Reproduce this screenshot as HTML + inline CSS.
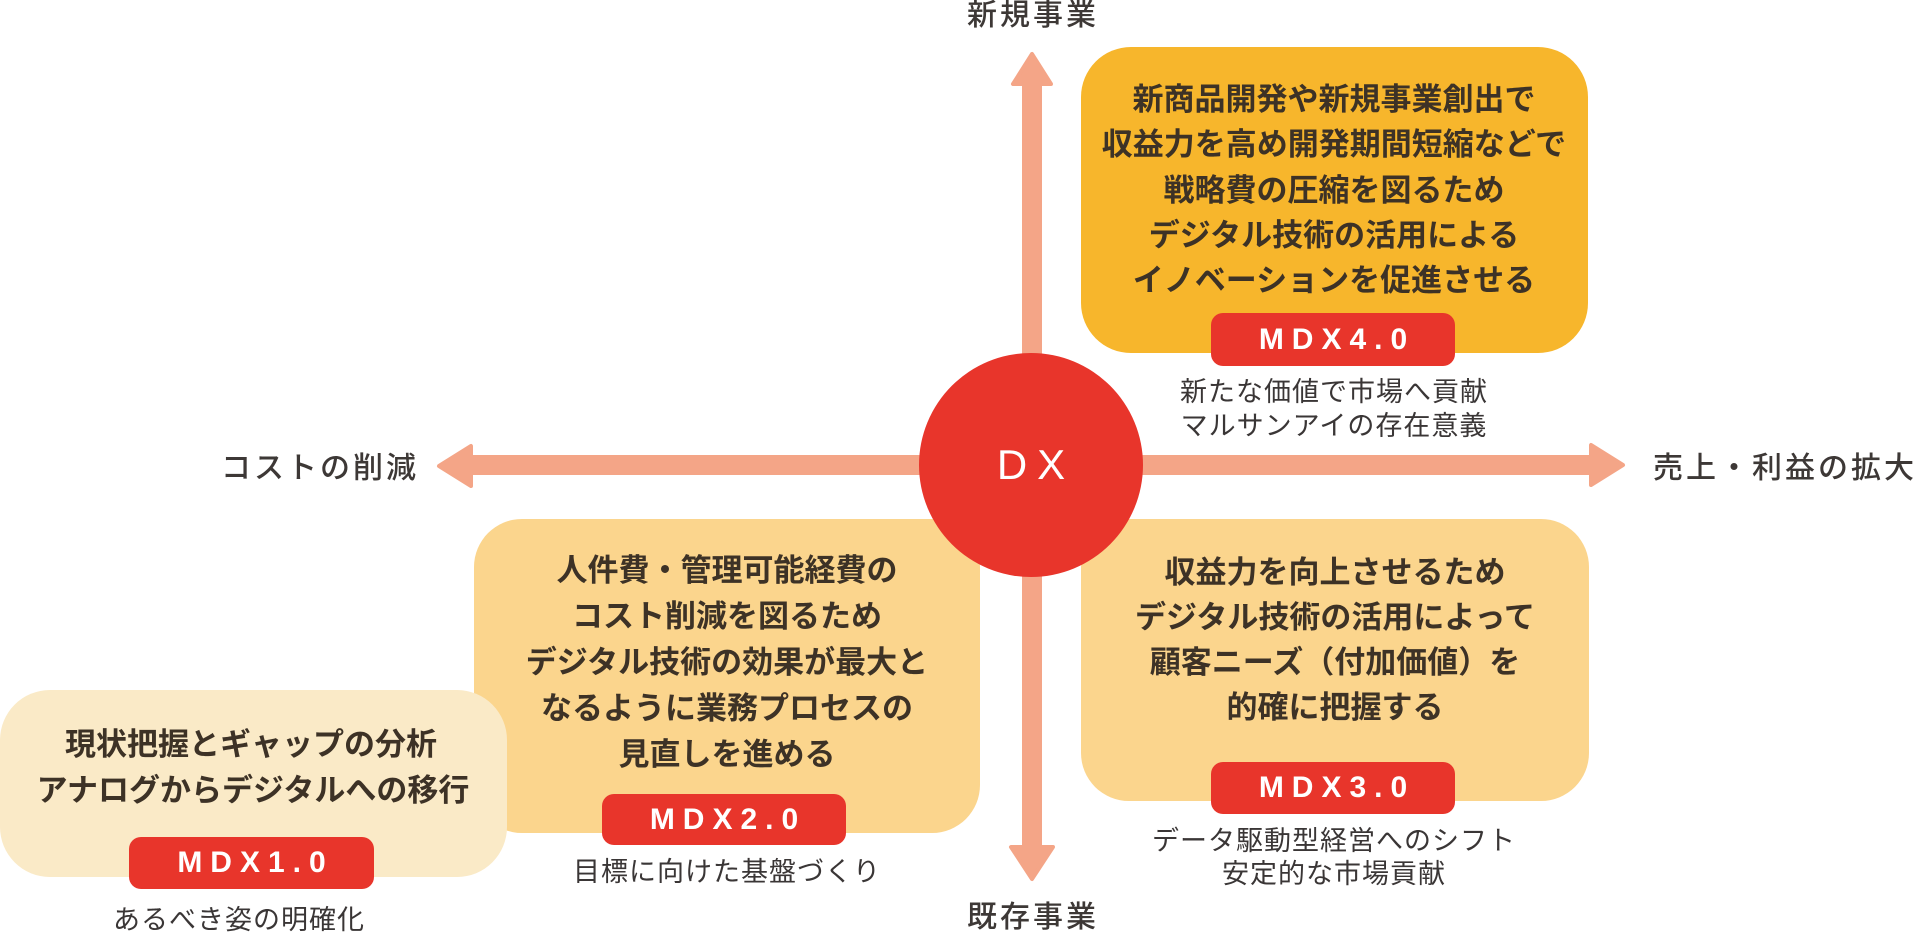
<!DOCTYPE html>
<html lang="ja">
<head>
<meta charset="utf-8">
<style>
  html, body { margin:0; padding:0; }
  body { width:1920px; height:934px; position:relative; overflow:hidden; background:#ffffff;
         font-family:"Liberation Sans","Noto Sans CJK JP",sans-serif; }
  .abs { position:absolute; }
  .box { position:absolute; border-radius:48px; }
  .line { position:absolute; white-space:nowrap; text-align:center; transform:translateX(-50%);
          font-family:"Liberation Sans","Noto Sans CJK JP",sans-serif; font-weight:700;
          font-size:31px; line-height:46px; height:46px; color:#3d3226; }
  .cap { position:absolute; white-space:nowrap; text-align:center; transform:translateX(-50%);
         font-family:"Liberation Sans","Noto Sans CJK JP",sans-serif; font-weight:400;
         font-size:27px; line-height:34px; height:34px; color:#3a3636; letter-spacing:1px; }
  .badge { position:absolute; background:#e8352b; border-radius:12px; color:#fff;
           font-family:"Liberation Sans","DejaVu Sans",sans-serif; font-weight:700; font-size:30px;
           letter-spacing:8px; text-align:center; }
  .axis { position:absolute; white-space:nowrap; font-family:"Liberation Sans","Noto Sans CJK JP",sans-serif;
          font-weight:500; font-size:30px; letter-spacing:3px; color:#3d3836; line-height:40px; height:40px; }
</style>
</head>
<body>

<!-- arrows -->
<svg class="abs" style="left:0;top:0" width="1920" height="934" viewBox="0 0 1920 934">
  <g fill="#f4a587" stroke="#f4a587" stroke-linejoin="round" stroke-width="4">
    <!-- horizontal shaft -->
    <rect x="470" y="455" width="1122" height="20" stroke="none"/>
    <!-- left head -->
    <polygon points="439,466 471,446 471,486"/>
    <!-- right head -->
    <polygon points="1623,465 1591,445 1591,485"/>
    <!-- vertical shaft -->
    <rect x="1022" y="84" width="20" height="762" stroke="none"/>
    <!-- top head -->
    <polygon points="1032,54 1013,84 1051,84"/>
    <!-- bottom head -->
    <polygon points="1032,879 1011,847 1053,847"/>
  </g>
</svg>

<!-- axis labels -->
<div class="axis" style="left:967px;top:-4px;">新規事業</div>
<div class="axis" style="left:967px;top:898px;">既存事業</div>
<div class="axis" style="left:221px;top:449px;">コストの削減</div>
<div class="axis" style="left:1653px;top:449px;">売上・利益の拡大</div>

<!-- MDX4 box -->
<div class="box" style="left:1081px;top:47px;width:507px;height:306px;background:#f7b62c;border-radius:50px;"></div>
<div class="line" style="left:1334px;top:77px;">新商品開発や新規事業創出で</div>
<div class="line" style="left:1334px;top:122px;">収益力を高め開発期間短縮などで</div>
<div class="line" style="left:1334px;top:168px;">戦略費の圧縮を図るため</div>
<div class="line" style="left:1334px;top:213px;">デジタル技術の活用による</div>
<div class="line" style="left:1334px;top:258px;">イノベーションを促進させる</div>
<div class="badge" style="left:1211px;top:313px;width:244px;height:53px;line-height:53px;padding-left:8px;box-sizing:border-box;">MDX4.0</div>
<div class="cap" style="left:1334px;top:375px;">新たな価値で市場へ貢献</div>
<div class="cap" style="left:1334px;top:409px;">マルサンアイの存在意義</div>

<!-- MDX2 box -->
<div class="box" style="left:474px;top:519px;width:506px;height:314px;background:#fbd58d;"></div>
<div class="line" style="left:727px;top:548px;">人件費・管理可能経費の</div>
<div class="line" style="left:727px;top:594px;">コスト削減を図るため</div>
<div class="line" style="left:727px;top:640px;">デジタル技術の効果が最大と</div>
<div class="line" style="left:727px;top:686px;">なるように業務プロセスの</div>
<div class="line" style="left:727px;top:732px;">見直しを進める</div>
<div class="badge" style="left:602px;top:794px;width:244px;height:51px;line-height:51px;padding-left:8px;box-sizing:border-box;">MDX2.0</div>
<div class="cap" style="left:727px;top:855px;">目標に向けた基盤づくり</div>

<!-- MDX3 box -->
<div class="box" style="left:1081px;top:519px;width:508px;height:282px;background:#fbd58d;"></div>
<div class="line" style="left:1335px;top:550px;">収益力を向上させるため</div>
<div class="line" style="left:1335px;top:595px;">デジタル技術の活用によって</div>
<div class="line" style="left:1335px;top:640px;">顧客ニーズ（付加価値）を</div>
<div class="line" style="left:1335px;top:685px;">的確に把握する</div>
<div class="badge" style="left:1211px;top:762px;width:244px;height:52px;line-height:52px;padding-left:8px;box-sizing:border-box;">MDX3.0</div>
<div class="cap" style="left:1334px;top:824px;">データ駆動型経営へのシフト</div>
<div class="cap" style="left:1334px;top:857px;">安定的な市場貢献</div>

<!-- MDX1 box -->
<div class="box" style="left:0px;top:690px;width:507px;height:187px;background:#faeac7;border-radius:50px;"></div>
<div class="line" style="left:251px;top:722px;">現状把握とギャップの分析</div>
<div class="line" style="left:253px;top:768px;">アナログからデジタルへの移行</div>
<div class="badge" style="left:129px;top:837px;width:245px;height:52px;line-height:52px;padding-left:8px;box-sizing:border-box;">MDX1.0</div>
<div class="cap" style="left:239px;top:903px;">あるべき姿の明確化</div>

<!-- DX circle -->
<div class="abs" style="left:919px;top:353px;width:224px;height:224px;border-radius:50%;background:#e8352b;"></div>
<div class="abs" style="left:919px;top:353px;width:224px;height:224px;line-height:224px;text-align:center;color:#fff;font-family:'Liberation Sans','DejaVu Sans',sans-serif;font-size:42px;letter-spacing:10px;padding-left:10px;box-sizing:border-box;">DX</div>

</body>
</html>
